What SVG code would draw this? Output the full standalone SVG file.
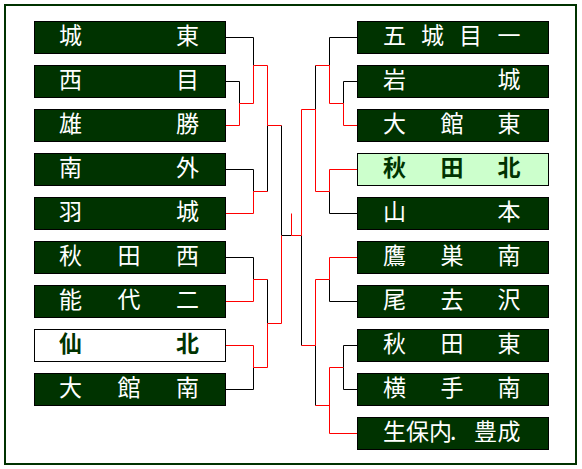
<svg xmlns="http://www.w3.org/2000/svg" width="582" height="469" viewBox="0 0 582 469">
<style>
.frame{fill:#fff;stroke:#003300;stroke-width:2}
.box{fill:#003300;stroke:#000;stroke-width:1}
.box.win{fill:#ccffcc}
.box.light{fill:#fff}
.t{font-family:"Noto Sans CJK JP","Noto Sans CJK SC",sans-serif;font-size:23px;fill:#fff}
.t.dark{fill:#003300;font-weight:bold}
.lk{fill:none;stroke:#000;stroke-width:1}
.lr{fill:none;stroke:#ff0000;stroke-width:1}
</style>
<rect class="frame" x="5" y="5" width="571" height="459"/>
<g id="connectors">
<path class="lk" d="M226 37.5H253.5V65.5M226 81.5H239.5V103.5M226 169.5H253.5V191.5M267.5 125.5V191.5M226 257.5H253.5V279.5M226 389.5H253.5V367.5M267.5 279.5V323.5M281.5 125.5V235.5H291.5"/>
<path class="lr" d="M226 125.5H239.5V103.5H253.5V65.5H267.5V125.5H281.5M226 213.5H253.5V191.5H267.5M226 301.5H253.5V279.5H267.5M226 345.5H253.5V367.5H267.5V323.5H281.5V235.5"/>
<path class="lr" d="M291.5 213.5V235.5H301.5"/>
<path class="lk" d="M357 37.5H329.5V65.5M357 81.5H343.5V103.5M357 213.5H329.5V191.5M315.5 65.5V109.5M357 301.5H329.5V279.5M357 345.5H343.5V389.5H357M315.5 345.5V405.5M301.5 235.5V345.5"/>
<path class="lr" d="M357 125.5H343.5V103.5H329.5V65.5H315.5M357 169.5H329.5V191.5H315.5V109.5H301.5V235.5M357 257.5H329.5V279.5H315.5V345.5H301.5M343.5 367.5H329.5V433.5H357M329.5 405.5H315.5"/>
</g>
<g id="L1"><rect class="box" x="34.5" y="21.5" width="191" height="32"/><text class="t" x="59 176" y="44">城東</text></g>
<g id="L2"><rect class="box" x="34.5" y="65.5" width="191" height="32"/><text class="t" x="59 176" y="88">西目</text></g>
<g id="L3"><rect class="box" x="34.5" y="109.5" width="191" height="32"/><text class="t" x="59 176" y="132">雄勝</text></g>
<g id="L4"><rect class="box" x="34.5" y="153.5" width="191" height="32"/><text class="t" x="59 176" y="176">南外</text></g>
<g id="L5"><rect class="box" x="34.5" y="197.5" width="191" height="32"/><text class="t" x="59 176" y="220">羽城</text></g>
<g id="L6"><rect class="box" x="34.5" y="241.5" width="191" height="32"/><text class="t" x="59 117.5 176" y="264">秋田西</text></g>
<g id="L7"><rect class="box" x="34.5" y="285.5" width="191" height="32"/><text class="t" x="59 117.5 176" y="308">能代二</text></g>
<g id="L8"><rect class="box light" x="34.5" y="329.5" width="191" height="32"/><text class="t dark" x="59 176" y="352">仙北</text></g>
<g id="L9"><rect class="box" x="34.5" y="373.5" width="191" height="32"/><text class="t" x="59 117.5 176" y="396">大館南</text></g>
<g id="R1"><rect class="box" x="357.5" y="21.5" width="191" height="32"/><text class="t" x="383 421 459 497.5" y="44">五城目一</text></g>
<g id="R2"><rect class="box" x="357.5" y="65.5" width="191" height="32"/><text class="t" x="383 497.5" y="88">岩城</text></g>
<g id="R3"><rect class="box" x="357.5" y="109.5" width="191" height="32"/><text class="t" x="383 440.5 497.5" y="132">大館東</text></g>
<g id="R4"><rect class="box win" x="357.5" y="153.5" width="191" height="32"/><text class="t dark" x="383 440.5 497.5" y="176">秋田北</text></g>
<g id="R5"><rect class="box" x="357.5" y="197.5" width="191" height="32"/><text class="t" x="383 497.5" y="220">山本</text></g>
<g id="R6"><rect class="box" x="357.5" y="241.5" width="191" height="32"/><text class="t" x="383 440.5 497.5" y="264">鷹巣南</text></g>
<g id="R7"><rect class="box" x="357.5" y="285.5" width="191" height="32"/><text class="t" x="383 440.5 497.5" y="308">尾去沢</text></g>
<g id="R8"><rect class="box" x="357.5" y="329.5" width="191" height="32"/><text class="t" x="383 440.5 497.5" y="352">秋田東</text></g>
<g id="R9"><rect class="box" x="357.5" y="373.5" width="191" height="32"/><text class="t" x="383 440.5 497.5" y="396">横手南</text></g>
<g id="R10"><rect class="box" x="357.5" y="417.5" width="191" height="32"/><text class="t" x="383 406 429 450 474 497.5" y="440">生保内.豊成</text></g>
</svg>
